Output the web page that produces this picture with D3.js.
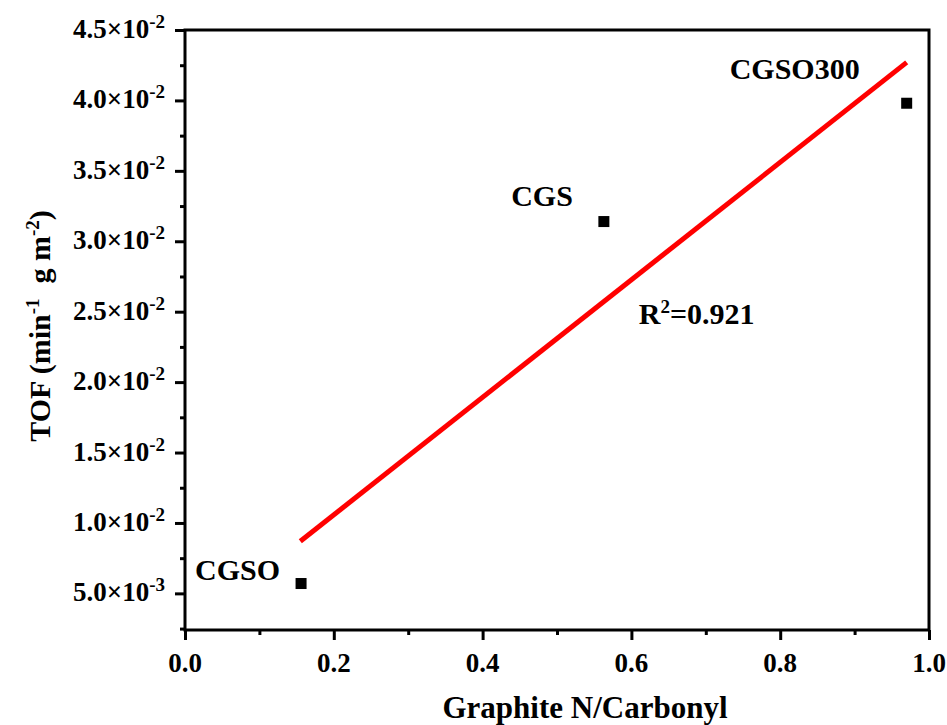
<!DOCTYPE html>
<html>
<head>
<meta charset="utf-8">
<script src="https://cdn.jsdelivr.net/npm/d3@7"></script>
<style>
  body { margin: 0; background: #fff; }
  svg text { font-family: "Liberation Serif", "Times New Roman", serif; font-weight: bold; fill: #000; }
</style>
</head>
<body>
<div id="chart"></div>
<script>
// data
var samples = ["CGSO", "CGS", "CGSO300"];
var ratio = [0.156, 0.563, 0.970];          // Graphite N / Carbonyl
var tof = [0.0057, 0.0314, 0.0398];         // min^-1 g m^-2
var fitX = [0.155, 0.970];                  // linear fit ends
var fitY = [0.0087, 0.0427];
var r2Text = "0.921";
var xTicks = [0.0, 0.2, 0.4, 0.6, 0.8, 1.0];
var xMinor = [0.1, 0.3, 0.5, 0.7, 0.9];
var yTicks = [0.005, 0.010, 0.015, 0.020, 0.025, 0.030, 0.035, 0.040, 0.045];
var yMinor = [0.0025, 0.0075, 0.0125, 0.0175, 0.0225, 0.0275, 0.0325, 0.0375, 0.0425];

//Set margins and sizes
var W = 947, H = 725;
var margin = {top: 30, right: 18, bottom: 95, left: 185};
var width = W - margin.left - margin.right;
var height = H - margin.top - margin.bottom;

var x = d3.scaleLinear().domain([0, 1]).range([0, width]);
var y = d3.scaleLinear().domain([0.0024, 0.045]).range([height, 0]);

var svg = d3.select("#chart").append("svg")
  .attr("width", W).attr("height", H);
var g = svg.append("g")
  .attr("transform", "translate(" + margin.left + "," + margin.top + ")");

//ticks (outward)
g.append("g").attr("transform", "translate(0," + height + ")")
  .call(d3.axisBottom(x).tickValues(xTicks).tickSize(10).tickSizeOuter(0).tickFormat(""))
  .call(a => a.select(".domain").remove());
g.append("g").attr("transform", "translate(0," + height + ")")
  .call(d3.axisBottom(x).tickValues(xMinor).tickSize(5).tickSizeOuter(0).tickFormat(""))
  .call(a => a.select(".domain").remove());
g.append("g")
  .call(d3.axisLeft(y).tickValues(yTicks).tickSize(10).tickSizeOuter(0).tickFormat(""))
  .call(a => a.select(".domain").remove());
g.append("g")
  .call(d3.axisLeft(y).tickValues(yMinor).tickSize(5).tickSizeOuter(0).tickFormat(""))
  .call(a => a.select(".domain").remove());
g.selectAll(".tick line").attr("stroke", "#000").attr("stroke-width", 3);

//frame
g.append("rect")
  .attr("x", 0).attr("y", 0).attr("width", width).attr("height", height)
  .attr("fill", "none").attr("stroke", "#000").attr("stroke-width", 3);

//x tick labels
g.selectAll(".xlab").data(xTicks).enter().append("text")
  .attr("class", "xlab")
  .attr("x", d => x(d)).attr("y", height + 42)
  .attr("text-anchor", "middle")
  .style("font-size", "27px")
  .text(d => d.toFixed(1));

//y tick labels, mantissa x 10^exp
var ylab = g.selectAll(".ylab").data(yTicks).enter().append("text")
  .attr("class", "ylab")
  .attr("x", -20).attr("y", d => y(d) + 8)
  .attr("text-anchor", "end")
  .style("font-size", "27px");
ylab.append("tspan").text(d => d.toExponential(1).split("e")[0] + "\u00d710");
ylab.append("tspan").attr("dy", -10).style("font-size", "19px")
  .text(d => d.toExponential(1).split("e")[1]);

//fit line
g.append("line")
  .attr("x1", x(fitX[0])).attr("y1", y(fitY[0]))
  .attr("x2", x(fitX[1])).attr("y2", y(fitY[1]))
  .attr("stroke", "#ff0000").attr("stroke-width", 5);

//points
g.selectAll(".pt").data(samples).enter().append("rect")
  .attr("class", "pt")
  .attr("x", (d, i) => x(ratio[i]) - 5.5).attr("y", (d, i) => y(tof[i]) - 5.5)
  .attr("width", 11).attr("height", 11).attr("fill", "#000");

//point labels
var labOff = [[-21, -4], [-31, -16], [-47, -24]];
g.selectAll(".plab").data(samples).enter().append("text")
  .attr("class", "plab")
  .attr("x", (d, i) => x(ratio[i]) + labOff[i][0])
  .attr("y", (d, i) => y(tof[i]) + labOff[i][1])
  .attr("text-anchor", "end")
  .style("font-size", "30px")
  .text(d => d);

//R^2
var r2 = g.append("text")
  .attr("x", x(0.61)).attr("y", y(0.0241))
  .style("font-size", "30px");
r2.append("tspan").text("R");
r2.append("tspan").attr("dy", -11).style("font-size", "19px").text("2");
r2.append("tspan").attr("dy", 11).text("=" + r2Text);

//axis titles
svg.append("text")
  .attr("x", 585).attr("y", 718)
  .attr("text-anchor", "middle")
  .style("font-size", "31px")
  .text("Graphite N/Carbonyl");

var yt = svg.append("text")
  .attr("transform", "translate(50,326) rotate(-90)")
  .attr("text-anchor", "middle")
  .attr("xml:space", "preserve")
  .style("font-size", "30px");
yt.append("tspan").text("TOF (min");
yt.append("tspan").attr("dy", -11).style("font-size", "19px").text("-1");
yt.append("tspan").attr("dy", 11).text("  g m");
yt.append("tspan").attr("dy", -11).style("font-size", "19px").text("-2");
yt.append("tspan").attr("dy", 11).text(")");
</script>
</body>
</html>
